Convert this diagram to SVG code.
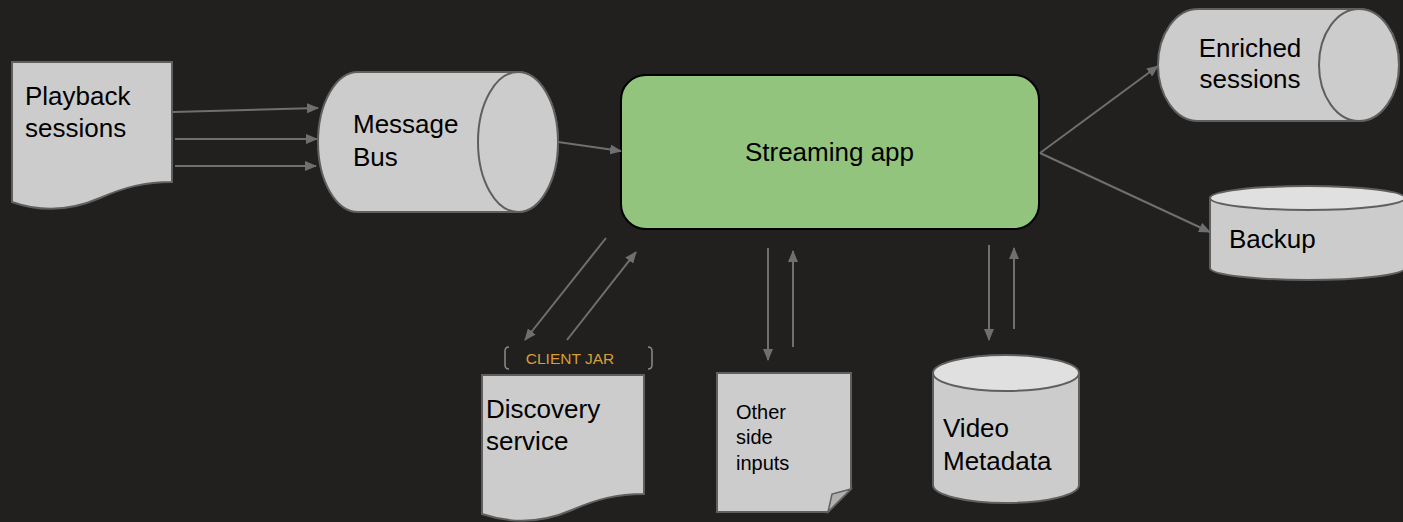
<svg xmlns="http://www.w3.org/2000/svg" width="1403" height="522" viewBox="0 0 1403 522">
<defs>
<style>
.shape{fill:#cccccc;stroke:#5f5f5f;stroke-width:2}
.top{fill:#e0e0e0;stroke:#5f5f5f;stroke-width:2}
.lbl{font-family:"Liberation Sans",Arial,sans-serif;font-size:26px;fill:#000}
.sm{font-family:"Liberation Sans",Arial,sans-serif;font-size:20px;fill:#000}
.conn line{stroke:#6f6f6f;stroke-width:2;marker-end:url(#ah)}
</style>
<marker id="ah" viewBox="0 0 12 10" refX="11" refY="5" markerWidth="12" markerHeight="10" markerUnits="userSpaceOnUse" orient="auto">
<path d="M0,0 L12,5 L0,10 Z" fill="#6f6f6f"/>
</marker>
</defs>
<rect width="1403" height="522" fill="#21201f"/>

<g id="playback">
<path class="shape" d="M12,62 H172 V182 C145,182 125,187 100,198 C70,211 40,212 12,202 Z"/>
<text class="lbl" x="25" y="105">Playback</text>
<text class="lbl" x="25" y="137">sessions</text>
</g>

<g id="message-bus">
<path class="shape" d="M358,72 H518 A40,70 0 0 1 518,212 H358 A40,70 0 0 1 358,72 Z"/>
<ellipse class="shape" cx="518" cy="142" rx="40" ry="70"/>
<text class="lbl" x="353" y="133">Message</text>
<text class="lbl" x="353" y="166">Bus</text>
</g>

<g id="streaming-app">
<rect x="621" y="75" width="418" height="154" rx="25" ry="25" fill="#93c47d" stroke="#000" stroke-width="2"/>
<text class="lbl" x="829.5" y="161" text-anchor="middle">Streaming app</text>
</g>

<g id="enriched-sessions">
<path class="shape" d="M1198,9 H1359 A40,56 0 0 1 1359,121 H1198 A40,56 0 0 1 1198,9 Z"/>
<ellipse class="shape" cx="1359" cy="65" rx="40" ry="56"/>
<text class="lbl" x="1250" y="57" text-anchor="middle">Enriched</text>
<text class="lbl" x="1250" y="88" text-anchor="middle">sessions</text>
</g>

<g id="backup">
<path class="shape" d="M1210,198 V268 A97.5,12 0 0 0 1405,268 V198 Z"/>
<ellipse class="top" cx="1307.5" cy="198" rx="97.5" ry="12"/>
<text class="lbl" x="1229" y="248">Backup</text>
</g>

<g id="client-jar">
<path d="M509,347 Q505,347 505,351 V365 Q505,369 509,369" fill="none" stroke="#8a8a8a" stroke-width="1.5"/>
<path d="M648,347 Q652,347 652,351 V365 Q652,369 648,369" fill="none" stroke="#8a8a8a" stroke-width="1.5"/>
<text x="570" y="364" text-anchor="middle" font-family="Liberation Sans, Arial, sans-serif" font-size="15.5" fill="#d59e3a">CLIENT JAR</text>
</g>

<g id="discovery-service">
<path class="shape" d="M482,375 H644 V494 C617,494 597,499 572,510 C542,523 512,524 482,514 Z"/>
<text class="lbl" x="486" y="418">Discovery</text>
<text class="lbl" x="486" y="450">service</text>
</g>

<g id="other-side-inputs">
<path class="shape" d="M717,373 H851 V489 L828,512 H717 Z"/>
<path d="M851,489 L832,494 L828,512 Z" fill="#b0b0b0" stroke="#5f5f5f" stroke-width="1.5"/>
<text class="sm" x="736" y="419">Other</text>
<text class="sm" x="736" y="444">side</text>
<text class="sm" x="736" y="470">inputs</text>
</g>

<g id="video-metadata">
<path class="shape" d="M933,373 V485 A73,18 0 0 0 1079,485 V373 Z"/>
<ellipse class="top" cx="1006" cy="373" rx="73" ry="18"/>
<text class="lbl" x="943" y="437">Video</text>
<text class="lbl" x="943" y="470">Metadata</text>
</g>

<g id="connectors" class="conn">
<line x1="173" y1="112" x2="318" y2="108"/>
<line x1="175" y1="139" x2="317" y2="139"/>
<line x1="175" y1="166" x2="316" y2="166"/>
<line x1="558" y1="142" x2="621" y2="151"/>
<line x1="1040" y1="153" x2="1158" y2="66"/>
<line x1="1040" y1="153" x2="1210" y2="232"/>
<line x1="606" y1="238" x2="525" y2="340"/>
<line x1="567" y1="340" x2="636" y2="252"/>
<line x1="768" y1="248" x2="768" y2="360"/>
<line x1="793" y1="347" x2="793" y2="251"/>
<line x1="989" y1="245" x2="989" y2="340"/>
<line x1="1014" y1="329" x2="1014" y2="248"/>
</g>
</svg>
